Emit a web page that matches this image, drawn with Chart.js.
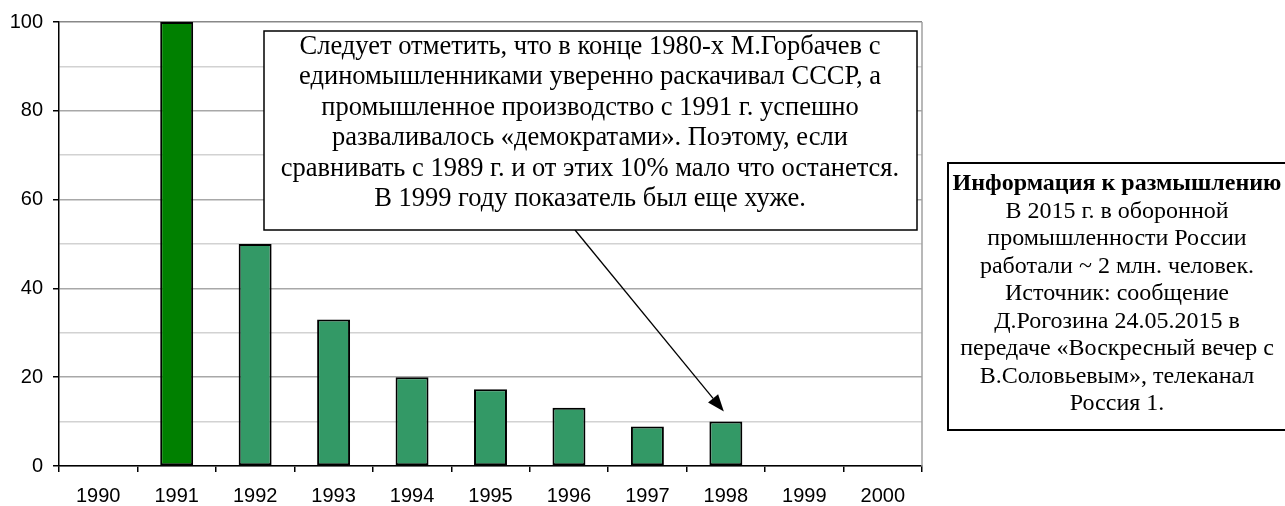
<!DOCTYPE html>
<html>
<head>
<meta charset="utf-8">
<script src="https://cdn.jsdelivr.net/npm/chart.js@4"></script>
<style>
  html, body { margin: 0; padding: 0; background: #fff; }
  #wrap { width: 1285px; height: 506px; }
</style>
</head>
<body>
<div id="wrap"><canvas id="chart" width="1285" height="506"></canvas></div>
<script>
const years = ['1990', '1991', '1992', '1993', '1994', '1995', '1996', '1997', '1998', '1999', '2000']
const values = [null, 100, 50, 33, 20, 17.3, 13.1, 8.9, 10, null, null]
const highlightYear = '1991'
const arrowYear = '1998'

const noteLines = [
  'Следует отметить, что в конце 1980-х М.Горбачев с',
  'единомышленниками уверенно раскачивал СССР, а',
  'промышленное производство с 1991 г. успешно',
  'разваливалось «демократами». Поэтому, если',
  'сравнивать с 1989 г. и от этих 10% мало что останется.',
  'В 1999 году показатель был еще хуже.'
]
const infoTitle = 'Информация к размышлению'
const infoLines = [
  'В 2015 г. в оборонной',
  'промышленности России',
  'работали ~ 2 млн. человек.',
  'Источник: сообщение',
  'Д.Рогозина 24.05.2015 в',
  'передаче «Воскресный вечер с',
  'В.Соловьевым», телеканал',
  'Россия 1.'
]

const serif = '"Liberation Serif", "Times New Roman", serif'
const sans = '"Liberation Sans", Arial, sans-serif'

const notesPlugin = {
  id: 'notes',
  afterDraw(chart) {
    const ctx = chart.ctx
    const area = chart.chartArea
    ctx.save()

    // right border of the plot area
    ctx.strokeStyle = '#a0a0a0'
    ctx.lineWidth = 1.5
    ctx.beginPath()
    ctx.moveTo(area.right, area.top)
    ctx.lineTo(area.right, area.bottom)
    ctx.stroke()

    // arrow to the 1998 bar
    const meta = chart.getDatasetMeta(0)
    const bar = meta.data[years.indexOf(arrowYear)]
    const tipX = bar.x - 2
    const tipY = bar.y - 10
    const startX = 575
    const startY = 230
    const ang = Math.atan2(tipY - startY, tipX - startX)
    const headLen = 17
    const headW = 6.5
    ctx.strokeStyle = '#000'
    ctx.lineWidth = 1.3
    ctx.beginPath()
    ctx.moveTo(startX, startY)
    ctx.lineTo(tipX - Math.cos(ang) * headLen, tipY - Math.sin(ang) * headLen)
    ctx.stroke()
    ctx.fillStyle = '#000'
    ctx.beginPath()
    ctx.moveTo(tipX, tipY)
    ctx.lineTo(tipX - Math.cos(ang) * headLen - Math.sin(ang) * headW,
               tipY - Math.sin(ang) * headLen + Math.cos(ang) * headW)
    ctx.lineTo(tipX - Math.cos(ang) * headLen + Math.sin(ang) * headW,
               tipY - Math.sin(ang) * headLen - Math.cos(ang) * headW)
    ctx.closePath()
    ctx.fill()

    // comment box over the plot
    ctx.fillStyle = '#fff'
    ctx.fillRect(264, 31, 653, 199)
    ctx.strokeStyle = '#000'
    ctx.lineWidth = 1.5
    ctx.strokeRect(264, 31, 653, 199)
    ctx.fillStyle = '#000'
    ctx.textAlign = 'center'
    ctx.textBaseline = 'middle'
    ctx.font = '26.5px ' + serif
    noteLines.forEach((line, i) => {
      ctx.fillText(line, 590, 47 + i * 30.4)
    })

    // info box on the right
    ctx.fillStyle = '#fff'
    ctx.fillRect(948, 163, 345, 267)
    ctx.strokeStyle = '#000'
    ctx.lineWidth = 2
    ctx.strokeRect(948, 163, 345, 267)
    ctx.fillStyle = '#000'
    ctx.font = 'bold 24px ' + serif
    ctx.fillText(infoTitle, 1117, 184)
    ctx.font = '24px ' + serif
    infoLines.forEach((line, i) => {
      ctx.fillText(line, 1117, 184 + (i + 1) * 27.5)
    })

    ctx.restore()
  }
}

const chart = new Chart(document.getElementById('chart'), {
  type: 'bar',
  data: {
    labels: years,
    datasets: [{
      data: values,
      backgroundColor: years.map(y => y === highlightYear ? '#008000' : '#339966'),
      borderColor: '#000',
      borderWidth: 2,
      borderSkipped: false,
      barPercentage: 0.42,
      categoryPercentage: 1
    }]
  },
  options: {
    responsive: false,
    animation: false,
    devicePixelRatio: 1,
    layout: {
      padding: { left: 0, top: 22, right: 363, bottom: 0 }
    },
    plugins: {
      legend: { display: false },
      tooltip: { enabled: false }
    },
    scales: {
      x: {
        grid: {
          offset: true,
          drawOnChartArea: false,
          color: '#000',
          tickLength: 6,
          lineWidth: 1.5
        },
        border: { color: '#000', width: 1.5 },
        ticks: {
          color: '#000',
          font: { family: sans, size: 20 },
          padding: 12,
          maxRotation: 0
        },
        afterFit(scale) { scale.height = 40 }
      },
      y: {
        min: 0,
        max: 100,
        grid: {
          color: c => c.tick.value === 100 ? '#888888' : (c.tick.value % 20 === 0 ? '#a8a8a8' : '#d2d2d2'),
          lineWidth: 1.5,
          tickColor: c => c.tick.value % 20 === 0 ? '#000' : 'rgba(0,0,0,0)',
          tickLength: 6
        },
        border: { color: '#000', width: 1.5 },
        ticks: {
          stepSize: 10,
          color: '#000',
          font: { family: sans, size: 20 },
          padding: 10,
          callback: v => v % 20 === 0 ? v : ''
        },
        afterFit(scale) { scale.width = 59 }
      }
    }
  },
  plugins: [notesPlugin]
})
</script>
</body>
</html>
